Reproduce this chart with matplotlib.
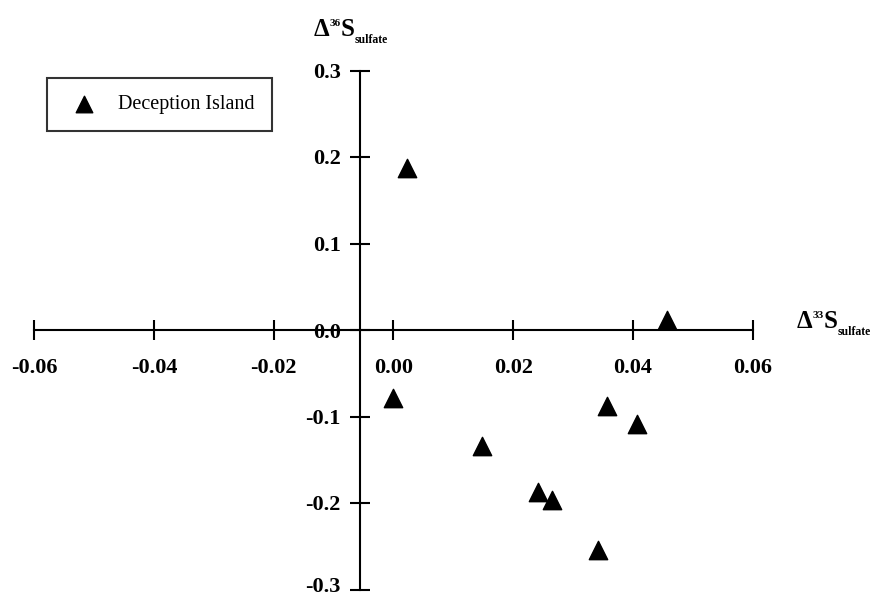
import matplotlib.pyplot as plt
import numpy as np

plt.rcParams['font.family'] = ['Liberation Serif', 'DejaVu Serif']

# Deception Island data (D33S, D36S of sulfate)
d33 = [0.0022, 0.0457, 0.0000, 0.0357, 0.0407, 0.0148, 0.0241, 0.0265, 0.0342]
d36 = [0.187, 0.012, -0.079, -0.088, -0.109, -0.134, -0.187, -0.196, -0.254]

xticks = [-0.06, -0.04, -0.02, 0.00, 0.02, 0.04, 0.06]
yticks = [-0.3, -0.2, -0.1, 0.0, 0.1, 0.2, 0.3]

W, H = 876, 599
fig = plt.figure(figsize=(W / 100, H / 100), dpi=100)
ax = fig.add_axes([0, 0, 1, 1])

# pixel mapping
sx = 5985.0   # px per unit x
x0px = 393.5  # px of x=0
sy = 865.0    # px per unit y
y0px = 330.0  # px of y=0
ax.set_xlim(-x0px / sx, (W - x0px) / sx)
ax.set_ylim(-(H - y0px) / sy, y0px / sy)

ax.scatter(d33, d36, marker='^', s=175, color='black', zorder=3,
           label='Deception Island')

yaxis_x = (360 - x0px) / sx
ax.spines['left'].set_position(('data', yaxis_x))
ax.spines['bottom'].set_position(('data', 0))
ax.spines['left'].set_bounds(-0.3, 0.3)
ax.spines['bottom'].set_bounds(-0.06, 0.06)
for s in ['top', 'right']:
    ax.spines[s].set_visible(False)
for s in ['left', 'bottom']:
    ax.spines[s].set_linewidth(1.5)

ax.set_xticks(xticks)
ax.set_xticklabels(['%.2f' % v for v in xticks])
ax.set_yticks(yticks)
# lowest label drawn by hand a little higher so it stays inside the picture
ax.set_yticklabels([''] + ['%.1f' % v for v in yticks[1:]])
ax.tick_params(axis='x', direction='inout', length=14, width=1.5, pad=13,
               labelsize=16)
ax.tick_params(axis='y', direction='inout', length=14, width=1.5, pad=7,
               labelsize=16)
for lab in ax.get_xticklabels() + ax.get_yticklabels():
    lab.set_fontweight('bold')
ax.annotate('%.1f' % yticks[0], xy=(yaxis_x, yticks[0]), xytext=(-19, 3),
            textcoords='offset pixels', ha='right', va='center',
            fontsize=16, fontweight='bold')


def axis_label(x, y, iso):
    # Delta, superscript isotope, S, subscript "sulfate" (pixel positions)
    kw = dict(fontweight='bold', va='baseline', ha='left')
    fig.text(x / W, 1 - y / H, '\u0394', fontsize=18, **kw)
    fig.text((x + 16) / W, 1 - (y - 10) / H, iso, fontsize=8, **kw)
    fig.text((x + 27) / W, 1 - y / H, 'S', fontsize=18, **kw)
    fig.text((x + 41) / W, 1 - (y + 7) / H, 'sulfate', fontsize=8.5, **kw)


axis_label(314, 36, '36')
axis_label(797, 328, '33')

leg = ax.legend(loc='upper left', bbox_to_anchor=(47 / W, 1 - 78 / H),
                bbox_transform=fig.transFigure, frameon=True, fancybox=False,
                edgecolor='black', fontsize=14.5, borderpad=0.85,
                handletextpad=0.7, borderaxespad=0, markerscale=0.9)
leg.get_frame().set_linewidth(1.5)

fig.savefig('out.png', dpi=100)
